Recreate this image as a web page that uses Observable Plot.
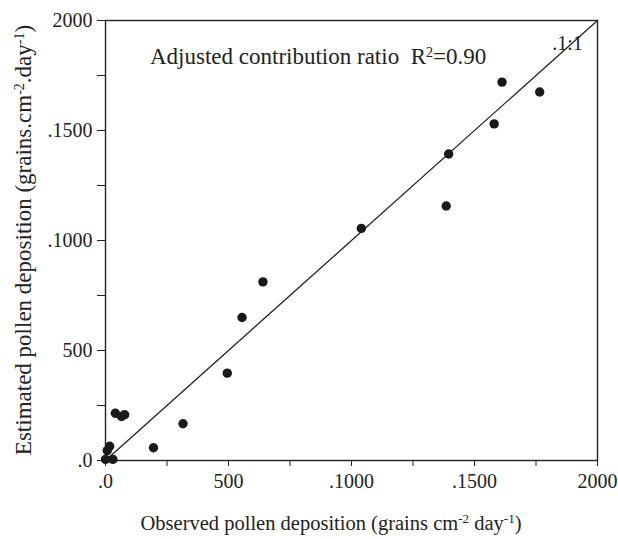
<!DOCTYPE html>
<html><head><meta charset="utf-8">
<script src="https://cdn.jsdelivr.net/npm/d3@7"></script>
<script src="https://cdn.jsdelivr.net/npm/@observablehq/plot@0.6"></script>
<style>body{margin:0;background:#fff}</style>
</head><body><div id="chart"></div>
<script>
// Data
const observed  = [0, 30, 7, 17, 40, 65, 78, 195, 315, 495, 555, 640, 1040, 1385, 1395, 1580, 1612, 1765];
const estimated = [5, 5, 45, 65, 215, 200, 208, 58, 167, 397, 650, 812, 1055, 1157, 1393, 1530, 1720, 1675];
const refLine = [0, 2000];
const tickValues = [0, 250, 500, 750, 1000, 1250, 1500, 1750, 2000];
const labelValues = [0, 500, 1000, 1500, 2000];
const xTickLabels = [".0", "500", ".1000", ".1500", "2000"];
const yTickLabels = [".0", "500", ".1000", ".1500", "2000"];
const lineLabel = [".1:1"];
const lineLabelPos = {x: 1878, y: 1895};

const points = observed.map((o, i) => ({obs: o, est: estimated[i]}));
const fmt = labels => d => { const i = labelValues.indexOf(d); return i >= 0 ? labels[i] : ""; };
const FONT = "'Liberation Serif', 'Times New Roman', serif";

const svg = Plot.plot({
  width: 618, height: 539,
  marginLeft: 105, marginRight: 21, marginTop: 20, marginBottom: 79,
  style: {fontFamily: FONT, fontSize: "20px", color: "#222", background: "#fff"},
  x: {domain: [0, 2000]},
  y: {domain: [0, 2000]},
  marks: [
    Plot.frame({stroke: "#222", strokeWidth: 1.4}),
    Plot.axisX({ticks: tickValues, tickSize: 6, tickPadding: 7, tickFormat: fmt(xTickLabels), label: null, fontSize: 20}),
    Plot.axisY({ticks: tickValues, tickSize: 8, tickPadding: 5, tickFormat: fmt(yTickLabels), label: null, fontSize: 20}),
    Plot.line(refLine, {x: d => d, y: d => d, stroke: "#222", strokeWidth: 1.3}),
    Plot.dot(points, {x: "obs", y: "est", r: 4.7, fill: "#1a1a1a", stroke: "none"}),
    Plot.text(lineLabel, {x: () => lineLabelPos.x, y: () => lineLabelPos.y, fontSize: 20, fill: "#222"})
  ]
});

const s = d3.select(svg);
function addSupText(attrs, parts, size) {
  const t = s.append("text").attr("font-family", FONT).attr("font-size", size).attr("fill", "#222");
  for (const [k, v] of Object.entries(attrs)) t.attr(k, v);
  let raised = false;
  for (const [txt, sup] of parts) {
    const ts = t.append("tspan").text(txt);
    if (sup) { ts.attr("font-size", Math.round(size * 0.62)).attr("dy", -7); raised = true; }
    else if (raised) { ts.attr("dy", 7); raised = false; }
  }
  return t;
}

addSupText({x: 150, y: 64, "text-anchor": "start"},
  [["Adjusted contribution ratio  R", false], ["2", true], ["=0.90", false]], 23);
addSupText({x: 331, y: 530, "text-anchor": "middle"},
  [["Observed pollen deposition (grains cm", false], ["-2", true], [" day", false], ["-1", true], [")", false]], 20.5);
addSupText({transform: "translate(31,240) rotate(-90)", "text-anchor": "middle"},
  [["Estimated pollen deposition (grains.cm", false], ["-2", true], [".day", false], ["-1", true], [")", false]], 23);

document.getElementById("chart").appendChild(svg);
</script>
</body></html>
